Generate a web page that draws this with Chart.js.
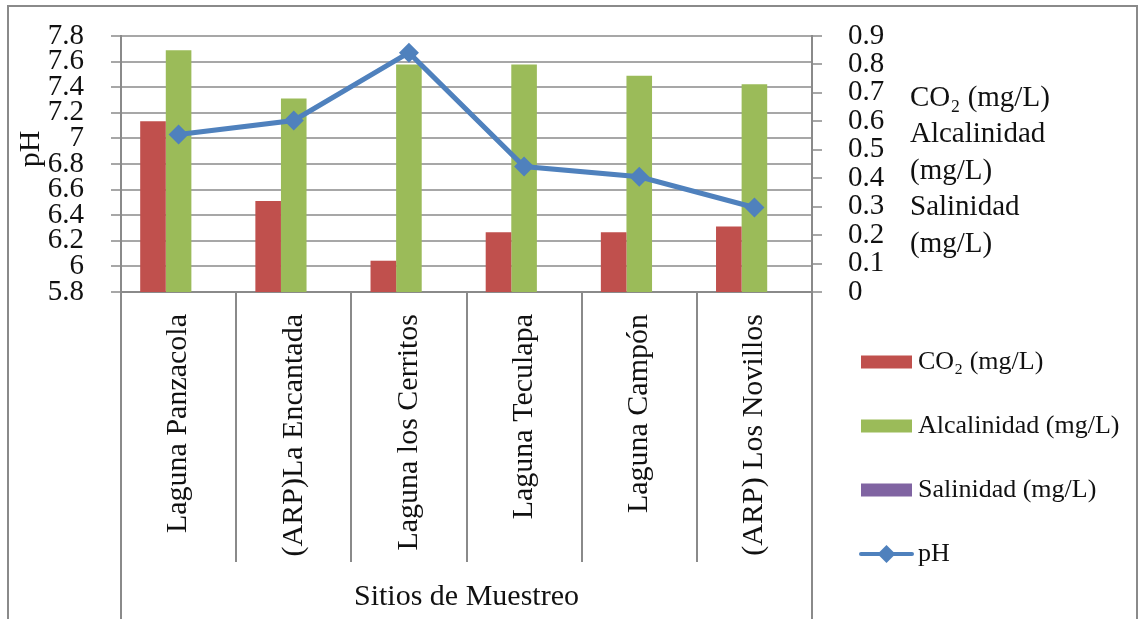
<!DOCTYPE html>
<html>
<head>
<meta charset="utf-8">
<script src="https://cdn.jsdelivr.net/npm/chart.js@4.4.1/dist/chart.umd.min.js"></script>
<style>
  html, body { margin: 0; padding: 0; background: #ffffff; }
  #wrap { width: 1143px; height: 619px; }
</style>
</head>
<body>
<div id="wrap"><canvas id="c" width="1143" height="619"></canvas></div>
<script>
// Sampling sites and measured parameters
const sites = ['Laguna Panzacola', '(ARP)La Encantada', 'Laguna los Cerritos', 'Laguna Teculapa', 'Laguna Campón', '(ARP) Los Novillos'];
const co2 = [0.60, 0.32, 0.11, 0.21, 0.21, 0.23];
const alcalinidad = [0.85, 0.68, 0.80, 0.80, 0.76, 0.73];
const salinidad = [0, 0, 0, 0, 0, 0];
const ph = [7.03, 7.14, 7.67, 6.78, 6.70, 6.46];

// Axis tick labels
const phTickLabels = ['5.8', '6', '6.2', '6.4', '6.6', '6.8', '7', '7.2', '7.4', '7.6', '7.8'];
const mgTickLabels = ['0', '0.1', '0.2', '0.3', '0.4', '0.5', '0.6', '0.7', '0.8', '0.9'];

// Titles and series names
const seriesNames = ['CO\u2082 (mg/L)', 'Alcalinidad (mg/L)', 'Salinidad (mg/L)', 'pH'];
const rightTitleLines = ['CO\u2082 (mg/L)', 'Alcalinidad', '(mg/L)', 'Salinidad', '(mg/L)'];
const xTitle = 'Sitios de Muestreo';
const yTitle = 'pH';

const FONT = '"Liberation Serif", "DejaVu Serif", serif';
const GRAY = '#8a8a8a';
const INK = '#111111';
const COLORS = { co2: '#C0504D', alc: '#9BBB59', sal: '#8064A2', ph: '#4F81BD' };
const TICK_LEN = 10;

// Horizontal rules at the pH ticks, plus outer tick marks on both value axes
const gridPlugin = {
  id: 'gridRules',
  beforeDatasetsDraw(chart) {
    const ctx = chart.ctx;
    const a = chart.chartArea;
    const yl = chart.scales.y;
    const yr = chart.scales.y1;
    ctx.save();
    ctx.strokeStyle = GRAY;
    ctx.lineWidth = 1.5;
    yl.ticks.forEach((t, i) => {
      const py = Math.round(yl.getPixelForTick(i));
      ctx.beginPath();
      ctx.moveTo(a.left - TICK_LEN, py);
      ctx.lineTo(a.right, py);
      ctx.stroke();
    });
    yr.ticks.forEach((t, i) => {
      const py = Math.round(yr.getPixelForTick(i));
      ctx.beginPath();
      ctx.moveTo(a.right, py);
      ctx.lineTo(a.right + TICK_LEN, py);
      ctx.stroke();
    });
    ctx.restore();
  }
};

// Category separators, extended axis rules, outer frame, titles and legend
const decorPlugin = {
  id: 'decor',
  afterDraw(chart) {
    const ctx = chart.ctx;
    const xs = chart.scales.x;
    const area = chart.chartArea;
    const n = sites.length;
    ctx.save();
    ctx.strokeStyle = GRAY;
    ctx.lineWidth = 2;
    ctx.strokeRect(8, 6, 1129, chart.height + 20);
    for (let i = 0; i <= n; i++) {
      const px = Math.round(xs.getPixelForValue(i - 0.5));
      const yEnd = (i === 0 || i === n) ? chart.height : area.bottom + 270;
      ctx.beginPath();
      ctx.moveTo(px, area.bottom);
      ctx.lineTo(px, yEnd);
      ctx.stroke();
    }

    // left axis title
    ctx.fillStyle = INK;
    ctx.font = '30px ' + FONT;
    ctx.textAlign = 'center';
    ctx.textBaseline = 'middle';
    ctx.save();
    ctx.translate(31, 149);
    ctx.rotate(-Math.PI / 2);
    ctx.fillText(yTitle, 0, 0);
    ctx.restore();

    // right axis title, wrapped over several lines
    ctx.font = '29px ' + FONT;
    ctx.textAlign = 'left';
    rightTitleLines.forEach((line, i) => {
      ctx.fillText(line, 910, 98 + i * 36.5);
    });

    // legend
    const ds = chart.data.datasets;
    ctx.font = '26px ' + FONT;
    ds.forEach((d, i) => {
      const cy = 362 + i * 64;
      if (d.type === 'line') {
        ctx.strokeStyle = d.borderColor;
        ctx.lineWidth = 4;
        ctx.lineCap = 'round';
        ctx.beginPath();
        ctx.moveTo(861, cy);
        ctx.lineTo(912, cy);
        ctx.stroke();
        ctx.fillStyle = d.borderColor;
        ctx.beginPath();
        ctx.moveTo(886.5 - 9, cy);
        ctx.lineTo(886.5, cy - 9);
        ctx.lineTo(886.5 + 9, cy);
        ctx.lineTo(886.5, cy + 9);
        ctx.closePath();
        ctx.fill();
      } else {
        ctx.fillStyle = d.backgroundColor;
        ctx.fillRect(861, cy - 6.5, 51, 13);
      }
      ctx.fillStyle = INK;
      ctx.fillText(d.label, 918, cy);
    });
    ctx.restore();
  }
};

// Fixed widths for the value axes; the outer layout padding already leaves room for the end labels
function fixVerticalAxis(width) {
  return (s) => {
    s.width = width;
    s.paddingTop = 0;
    s.paddingBottom = 0;
  };
}

new Chart(document.getElementById('c'), {
  type: 'bar',
  data: {
    labels: sites,
    datasets: [
      { label: seriesNames[0], data: co2, backgroundColor: COLORS.co2, yAxisID: 'y1', order: 1,
        categoryPercentage: 2 / 3, barPercentage: 1, borderWidth: 0 },
      { label: seriesNames[1], data: alcalinidad, backgroundColor: COLORS.alc, yAxisID: 'y1', order: 1,
        categoryPercentage: 2 / 3, barPercentage: 1, borderWidth: 0 },
      { label: seriesNames[2], data: salinidad, backgroundColor: COLORS.sal, yAxisID: 'y1', order: 1,
        categoryPercentage: 2 / 3, barPercentage: 1, borderWidth: 0 },
      { type: 'line', label: seriesNames[3], data: ph, yAxisID: 'y', order: 0,
        borderColor: COLORS.ph, backgroundColor: COLORS.ph, borderWidth: 5, tension: 0,
        pointStyle: 'rectRot', pointRadius: 10, pointBorderWidth: 0,
        pointBackgroundColor: COLORS.ph }
    ]
  },
  options: {
    responsive: false,
    animation: false,
    devicePixelRatio: 1,
    layout: { padding: { top: 36, left: 0, right: 243, bottom: 0 } },
    plugins: { legend: { display: false }, tooltip: { enabled: false } },
    scales: {
      x: {
        offset: true,
        grid: { display: false },
        border: { display: true, color: GRAY, width: 2 },
        ticks: { autoSkip: false, maxRotation: 90, minRotation: 90, padding: 14, color: INK,
                 font: { family: FONT, size: 30 } },
        title: { display: true, text: xTitle, color: INK, font: { family: FONT, size: 30 },
                 padding: { top: 0, bottom: 4 } },
        afterFit(s) { s.height = 327; }
      },
      y: {
        position: 'left',
        min: 5.8, max: 7.8,
        ticks: { stepSize: 0.2, autoSkip: false, padding: 19 + TICK_LEN, color: INK,
                 font: { family: FONT, size: 29 },
                 callback: (v, i) => phTickLabels[i] },
        grid: { display: false },
        border: { display: true, color: GRAY, width: 2 },
        afterFit: fixVerticalAxis(121)
      },
      y1: {
        position: 'right',
        min: 0, max: 0.9,
        ticks: { stepSize: 0.1, autoSkip: false, padding: 18 + TICK_LEN, color: INK,
                 font: { family: FONT, size: 29 },
                 callback: (v, i) => mgTickLabels[i] },
        grid: { display: false },
        border: { display: true, color: GRAY, width: 2 },
        afterFit: fixVerticalAxis(88)
      }
    }
  },
  plugins: [gridPlugin, decorPlugin]
});
</script>
</body>
</html>
